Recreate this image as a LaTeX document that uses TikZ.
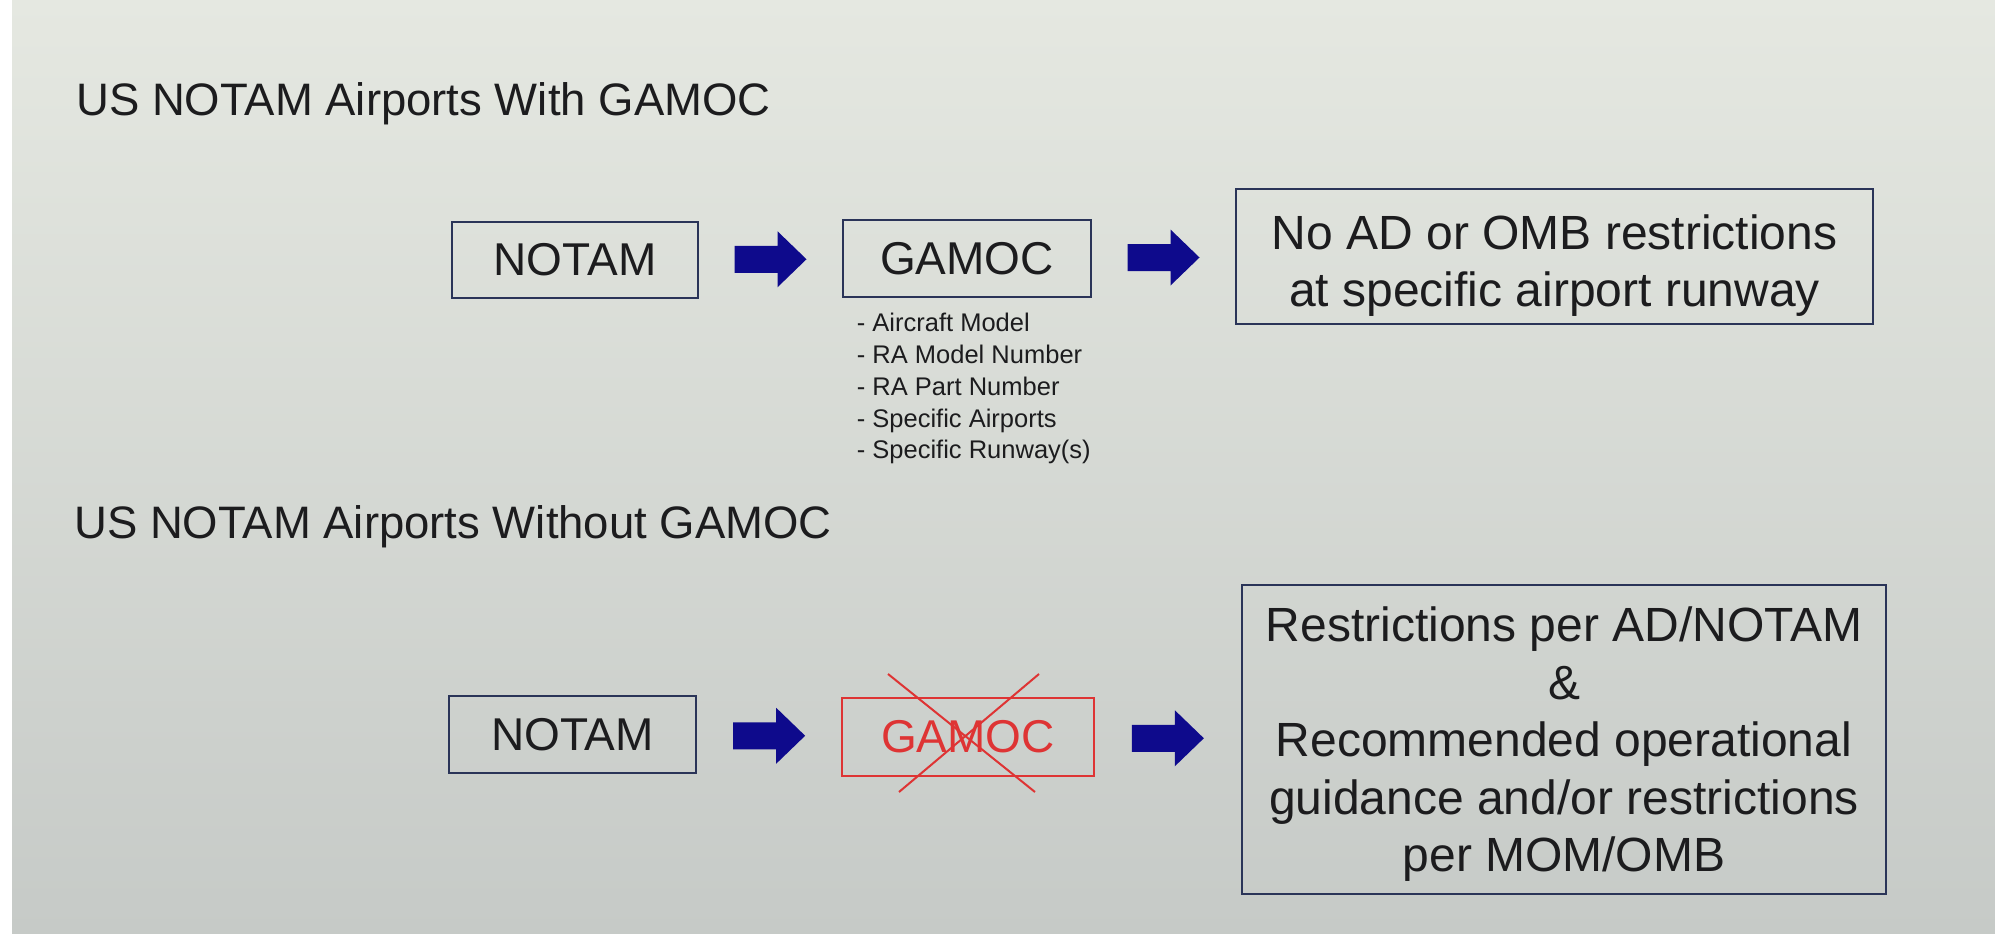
\documentclass[tikz,border=0pt]{standalone}
\usepackage{fontspec}
\setmainfont{Liberation Sans}
\usetikzlibrary{calc}
\definecolor{bgtop}{RGB}{229,232,225}
\definecolor{bgbot}{RGB}{198,202,199}
\definecolor{boxline}{RGB}{42,52,88}
\definecolor{txt}{RGB}{28,28,30}
\definecolor{arrowblue}{RGB}{14,10,140}
\definecolor{crossred}{RGB}{222,52,52}
\tikzset{
  stepbox/.style={draw=boxline, line width=2.6pt, inner sep=0pt, text=txt, align=center,
    font=\fontsize{46}{57}\selectfont},
  bigtext/.style={inner sep=0pt, text=txt, align=center, font=\fontsize{48}{57.5}\selectfont},
  titletext/.style={anchor=base west, inner sep=0pt, text=txt, font=\fontsize{45.5}{54}\selectfont},
  listtext/.style={anchor=north west, inner sep=0pt, text=txt, align=left,
    font=\fontsize{25.5}{31.7}\selectfont},
  redbox/.style={draw=crossred, line width=2pt, inner sep=0pt, text=crossred,
    font=\fontsize{46}{57}\selectfont},
  crossline/.style={draw=crossred, line width=2pt},
  barrow/.pic={\fill[arrowblue] (-36,-13.5) -- (7,-13.5) -- (7,-28) -- (36,0) -- (7,28) -- (7,13.5) -- (-36,13.5) -- cycle;}
}
\begin{document}
\begin{tikzpicture}[x=1pt, y=-1pt]
\shade[top color=bgtop, bottom color=bgbot] (0,0) rectangle (1995,934);
\fill[white] (0,0) rectangle (12,934);
\useasboundingbox (0,0) rectangle (1995,934);

% titles
\node[titletext] (t1) at (76,115) {US NOTAM Airports With GAMOC};
\node[titletext] (t2) at (74,538) {US NOTAM Airports Without GAMOC};

% row 1
\node[stepbox, minimum width=246pt, minimum height=76pt] (notam1) at (575,260) {NOTAM};
\node[stepbox, minimum width=248pt, minimum height=77pt] (gamoc1) at (967,258.5) {GAMOC};
\node[stepbox, minimum width=637pt, minimum height=135pt] (res1) at (1554.5,256.5) {};
\node[bigtext] (res1t) at ($(res1.center)+(0,9)$)
  {No AD or OMB restrictions\\at specific airport runway};
\node[listtext] (list1) at ($(gamoc1.south west)+(15,15)$)
  {- Aircraft Model\\- RA Model Number\\- RA Part Number\\- Specific Airports\\- Specific Runway(s)};

\pic at ($(notam1.east)!0.5!(gamoc1.west)$) {barrow};
\pic at ($(gamoc1.east)!0.5!(res1.west)$) {barrow};

% row 2
\node[stepbox, minimum width=247pt, minimum height=77pt] (notam2) at (572.5,734.5) {NOTAM};
\node[redbox, minimum width=252pt, minimum height=78pt] (gamoc2) at (968,737) {GAMOC};
\draw[crossline] ($(gamoc2.center)+(-80,-63)$) -- ($(gamoc2.center)+(67,55)$);
\draw[crossline] ($(gamoc2.center)+(71,-63)$) -- ($(gamoc2.center)+(-69,55)$);
\node[stepbox, minimum width=644pt, minimum height=309pt] (res2) at (1564,739.5) {};
\node[bigtext] (res2t) at ($(res2.center)+(0,5)$)
  {Restrictions per AD/NOTAM\\\&\\Recommended operational\\guidance and/or restrictions\\per MOM/OMB};

\pic at ($(notam2.east)!0.5!(gamoc2.west)$) {barrow};
\pic at ($(gamoc2.east)!0.5!(res2.west)$) {barrow};
\end{tikzpicture}
\end{document}
